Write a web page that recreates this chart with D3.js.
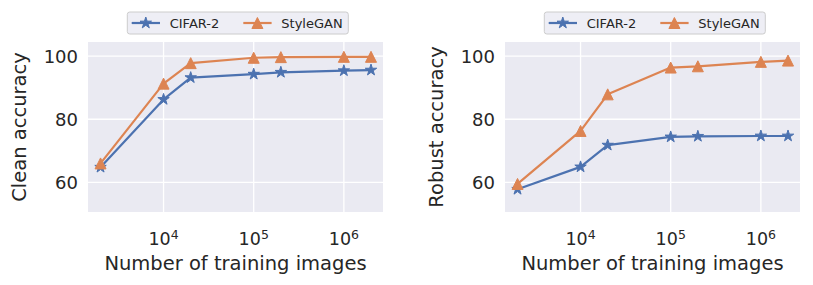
<!DOCTYPE html>
<html>
<head>
<meta charset="utf-8">
<script src="https://cdn.jsdelivr.net/npm/d3@7"></script>
<style>
  body { margin: 0; background: #ffffff; }
  svg { display: block; font-family: "DejaVu Sans", sans-serif; }
</style>
</head>
<body>
<svg id="chart" width="813" height="285"></svg>
<script>
// ---- data ----
const trainingImages = [2000, 10000, 20000, 100000, 200000, 1000000, 2000000];
const seriesNames = ["CIFAR-2", "StyleGAN"];
const cleanCifar = [64.8, 86.3, 93.2, 94.3, 94.9, 95.4, 95.6];
const cleanStyleGAN = [66.0, 91.3, 97.8, 99.5, 99.7, 99.8, 99.8];
const robustCifar = [57.8, 64.9, 71.8, 74.4, 74.6, 74.7, 74.7];
const robustStyleGAN = [59.5, 76.3, 87.9, 96.4, 96.8, 98.2, 98.6];
const yTicks = [60, 80, 100];
const xTicksExp = [4, 5, 6];
const yLabels = ["Clean accuracy", "Robust accuracy"];
const xLabel = "Number of training images";

const colors = ["#4c72b0", "#dd8452"];
const textColor = "#262626";

const svg = d3.select("#chart");

const panels = [
  { left: 88, ylab: yLabels[0], series: [cleanCifar, cleanStyleGAN], ylabX: 26 },
  { left: 505, ylab: yLabels[1], series: [robustCifar, robustStyleGAN], ylabX: 443 }
];

const plotW = 295, plotTop = 42, plotBottom = 212;

function starPath(r) {
  const inner = r * 0.381966;
  const pts = [];
  for (let i = 0; i < 10; i++) {
    const rr = i % 2 === 0 ? r : inner;
    const a = -Math.PI / 2 + i * Math.PI / 5;
    pts.push([rr * Math.cos(a), rr * Math.sin(a)]);
  }
  return "M" + pts.map(p => p[0].toFixed(2) + "," + p[1].toFixed(2)).join("L") + "Z";
}
function triPath(r) {
  return `M0,${-r}L${-r},${r}L${r},${r}Z`;
}
const markerPaths = [starPath(6), triPath(5.5)];

panels.forEach(p => {
  const x = d3.scaleLog()
    .domain([Math.pow(10, 3.162), Math.pow(10, 6.434)])
    .range([p.left, p.left + plotW]);
  const y = d3.scaleLinear().domain([50.6, 104.5]).range([plotBottom, plotTop]);

  const g = svg.append("g");
  g.append("rect")
    .attr("x", p.left).attr("y", plotTop)
    .attr("width", plotW).attr("height", plotBottom - plotTop)
    .attr("fill", "#eaeaf2");

  // grid
  const xTickVals = xTicksExp.map(e => Math.pow(10, e));
  g.selectAll(".gx").data(xTickVals).enter().append("line")
    .attr("x1", d => x(d)).attr("x2", d => x(d))
    .attr("y1", plotTop).attr("y2", plotBottom)
    .attr("stroke", "#ffffff").attr("stroke-width", 1.3);
  g.selectAll(".gy").data(yTicks).enter().append("line")
    .attr("x1", p.left).attr("x2", p.left + plotW)
    .attr("y1", d => y(d)).attr("y2", d => y(d))
    .attr("stroke", "#ffffff").attr("stroke-width", 1.3);

  // y tick labels
  g.selectAll(".ty").data(yTicks).enter().append("text")
    .attr("x", p.left - 10).attr("y", d => y(d))
    .attr("dy", "0.36em")
    .attr("text-anchor", "end")
    .attr("font-size", 18)
    .attr("fill", textColor)
    .text(d => d);

  // x tick labels with superscripts
  xTicksExp.forEach(e => {
    const t = g.append("text")
      .attr("x", x(Math.pow(10, e)))
      .attr("y", 244.7)
      .attr("text-anchor", "middle")
      .attr("fill", textColor)
      .attr("font-size", 17.5);
    t.append("tspan").text("10");
    t.append("tspan").attr("font-size", 12.5).attr("dy", -6).text(e);
  });

  // axis labels
  g.append("text")
    .attr("x", p.left + plotW / 2).attr("y", 270)
    .attr("text-anchor", "middle")
    .attr("font-size", 19.5)
    .attr("fill", textColor)
    .text(xLabel);
  g.append("text")
    .attr("transform", `translate(${p.ylabX},${(plotTop + plotBottom) / 2}) rotate(-90)`)
    .attr("text-anchor", "middle")
    .attr("font-size", 19.5)
    .attr("fill", textColor)
    .text(p.ylab);

  // lines and markers
  const line = d3.line().x(d => x(d[0])).y(d => y(d[1]));
  p.series.forEach((vals, si) => {
    const pts = trainingImages.map((n, i) => [n, vals[i]]);
    g.append("path")
      .attr("d", line(pts))
      .attr("fill", "none")
      .attr("stroke", colors[si])
      .attr("stroke-width", 2.2)
      .attr("stroke-linejoin", "round");
    g.selectAll(null).data(pts).enter().append("path")
      .attr("transform", d => `translate(${x(d[0])},${y(d[1])})`)
      .attr("d", markerPaths[si])
      .attr("fill", colors[si])
      .attr("stroke", colors[si])
      .attr("stroke-width", 1)
      .attr("stroke-linejoin", "round");
  });

  // legend
  const lx = p.left + 39.3, ly = 12, lw = 221, lh = 22;
  const lg = g.append("g");
  lg.append("rect")
    .attr("x", lx).attr("y", ly).attr("width", lw).attr("height", lh)
    .attr("rx", 2.5)
    .attr("fill", "#eaeaf2").attr("fill-opacity", 0.8)
    .attr("stroke", "#cccccc").attr("stroke-width", 1);
  const entryOffsets = [0, 111.6];
  seriesNames.forEach((name, si) => {
    const ex = lx + 4.4 + entryOffsets[si];
    const cy = ly + lh / 2;
    lg.append("line")
      .attr("x1", ex).attr("x2", ex + 28.3)
      .attr("y1", cy).attr("y2", cy)
      .attr("stroke", colors[si]).attr("stroke-width", 2.2);
    lg.append("path")
      .attr("transform", `translate(${ex + 14.1},${cy})`)
      .attr("d", markerPaths[si])
      .attr("fill", colors[si]).attr("stroke", colors[si]).attr("stroke-width", 1);
    lg.append("text")
      .attr("x", ex + 38).attr("y", cy)
      .attr("dy", "0.36em")
      .attr("font-size", 13)
      .attr("fill", textColor)
      .text(name);
  });
});
</script>
</body>
</html>
